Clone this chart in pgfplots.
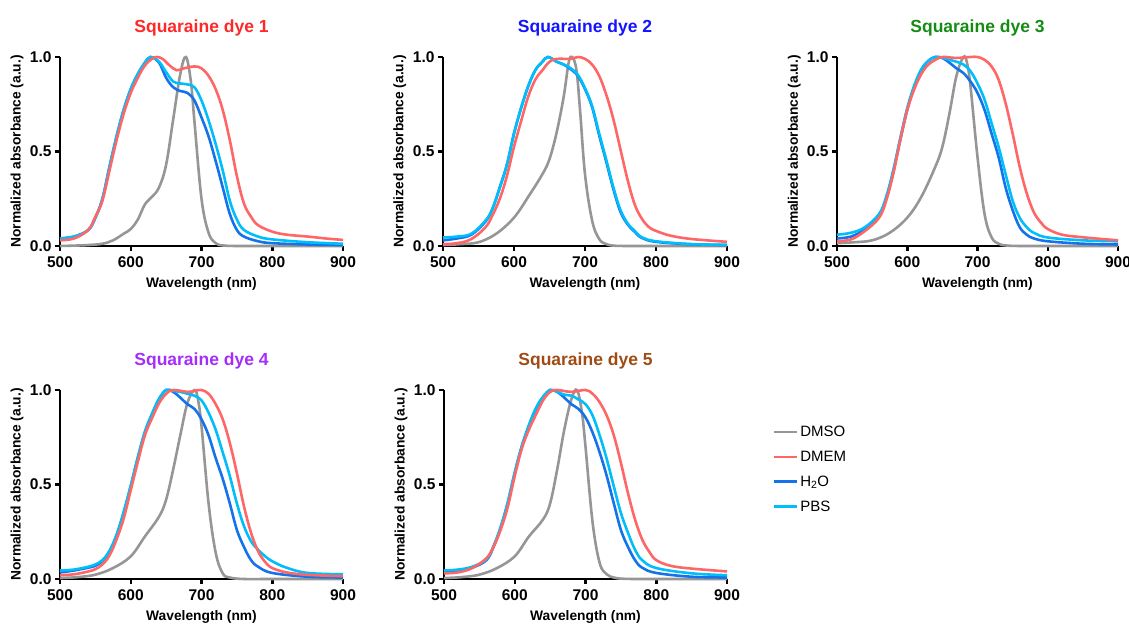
\documentclass[border=0pt]{standalone}
\usepackage{pgfplots}
\pgfplotsset{compat=1.18}
\usepackage{fontspec}
\setmainfont{Liberation Sans}
\definecolor{cDMSO}{RGB}{150,150,150}
\definecolor{cDMEM}{RGB}{255,102,102}
\definecolor{cH}{RGB}{20,115,235}
\definecolor{cPBS}{RGB}{0,190,250}
\definecolor{t1}{RGB}{255,40,40}
\definecolor{t2}{RGB}{20,20,255}
\definecolor{t3}{RGB}{20,140,20}
\definecolor{t4}{RGB}{165,45,250}
\definecolor{t5}{RGB}{160,75,20}
\pgfplotsset{
  panel/.style={
    scale only axis, height=189pt,
    xmin=500, xmax=900, ymin=0, ymax=1,
    axis lines*=left, axis line style={line width=2.5pt, black, -},
    tick align=outside, major tick length=5pt,
    tick style={line width=2.5pt, black},
    xtick={500,600,700,800,900}, xticklabels={500,600,700,800,900},
    ytick={0,0.5,1}, yticklabels={0.0,0.5,1.0},
    /pgf/number format/assume math mode=true,
    tick label style={font=\bfseries\fontsize{15.5}{17}\selectfont},
    xticklabel style={yshift=-2pt},
    xlabel={Wavelength (nm)}, ylabel={Normalized absorbance (a.u.)},
    label style={font=\bfseries\fontsize{13.8}{16}\selectfont},
    xlabel style={at={(axis description cs:0.5,-0.2)}, anchor=center},
    ylabel style={at={(axis description cs:-0.152,0.5)}, anchor=center, rotate=0},
    title style={at={(axis description cs:0.5,1.122)}, anchor=center, font=\bfseries\fontsize{17.5}{20}\selectfont},
    clip=false,
    every axis plot/.append style={line width=2.6pt, smooth, tension=0.6, no marks},
  },
  dmso/.style={cDMSO}, dmem/.style={cDMEM}, hh/.style={cH}, pbs/.style={cPBS},
}
\begin{document}
\begin{tikzpicture}
\useasboundingbox (0,0) rectangle (1129pt,626pt);
% ---------------- Panel 1
\begin{axis}[panel, width=283pt, at={(60pt,380pt)}, anchor=south west,
  title={\textcolor{t1}{Squaraine dye 1}}]
\addplot[dmso] coordinates {(500,0)(520,0.002)(540,0.005)(560,0.012)(575,0.03)(590,0.065)(600,0.09)(610,0.14)(620,0.22)(630,0.26)(640,0.31)(650,0.43)(660,0.67)(670,0.91)(678,1.0)(685,0.87)(690,0.66)(700,0.25)(710,0.07)(720,0.015)(730,0.003)(750,0)(800,0)(900,0)};
\addplot[hh] coordinates {(500,0.04)(520,0.05)(540,0.085)(550,0.15)(560,0.25)(570,0.42)(580,0.58)(590,0.72)(600,0.83)(610,0.91)(620,0.97)(628,1.0)(640,0.97)(650,0.89)(660,0.84)(670,0.82)(680,0.81)(690,0.77)(700,0.68)(710,0.58)(720,0.45)(730,0.31)(740,0.17)(750,0.085)(760,0.05)(780,0.025)(800,0.015)(850,0.008)(900,0.005)};
\addplot[pbs] coordinates {(500,0.04)(520,0.05)(540,0.085)(550,0.15)(560,0.25)(570,0.42)(580,0.58)(590,0.72)(600,0.83)(610,0.91)(620,0.97)(628,1.0)(640,0.975)(650,0.92)(660,0.87)(670,0.86)(680,0.855)(690,0.84)(700,0.77)(710,0.665)(720,0.54)(730,0.40)(740,0.24)(750,0.14)(760,0.085)(780,0.05)(800,0.035)(850,0.02)(900,0.012)};
\addplot[dmem] coordinates {(500,0.03)(520,0.04)(540,0.085)(550,0.155)(560,0.24)(570,0.40)(580,0.56)(590,0.70)(600,0.81)(610,0.89)(620,0.955)(630,0.99)(637,1.0)(645,0.99)(655,0.955)(665,0.93)(675,0.94)(690,0.95)(700,0.94)(710,0.90)(720,0.83)(730,0.72)(740,0.56)(750,0.37)(760,0.225)(770,0.155)(780,0.11)(800,0.076)(820,0.06)(850,0.05)(875,0.04)(900,0.032)};
\end{axis}
% ---------------- Panel 2
\begin{axis}[panel, width=284pt, at={(443pt,380pt)}, anchor=south west,
  title={\textcolor{t2}{Squaraine dye 2}}]
\addplot[dmso] coordinates {(500,0.005)(525,0.01)(550,0.02)(575,0.065)(600,0.15)(620,0.26)(640,0.38)(650,0.46)(660,0.60)(670,0.79)(677,0.97)(682,1.0)(688,0.93)(693,0.72)(700,0.38)(710,0.135)(720,0.037)(730,0.01)(740,0.002)(760,0)(800,0)(900,0)};
\addplot[hh] coordinates {(500,0.03)(520,0.04)(540,0.06)(560,0.13)(570,0.2)(580,0.31)(590,0.43)(600,0.595)(610,0.73)(620,0.845)(630,0.93)(640,0.975)(648,1.0)(660,0.975)(670,0.96)(680,0.935)(690,0.9)(700,0.83)(710,0.735)(720,0.585)(730,0.445)(740,0.30)(750,0.18)(760,0.115)(770,0.075)(780,0.043)(800,0.022)(850,0.009)(900,0.005)};
\addplot[pbs] coordinates {(500,0.045)(520,0.05)(540,0.065)(560,0.135)(570,0.2)(580,0.31)(590,0.43)(600,0.595)(610,0.73)(620,0.845)(630,0.93)(640,0.975)(648,1.0)(660,0.975)(670,0.96)(680,0.94)(690,0.905)(700,0.835)(710,0.74)(720,0.595)(730,0.455)(740,0.31)(750,0.19)(760,0.12)(770,0.08)(780,0.046)(800,0.025)(850,0.01)(900,0.006)};
\addplot[dmem] coordinates {(500,0.01)(520,0.015)(540,0.037)(560,0.10)(570,0.165)(580,0.25)(590,0.37)(600,0.525)(610,0.66)(620,0.79)(630,0.88)(640,0.93)(650,0.975)(660,0.99)(680,0.99)(690,1.0)(700,0.99)(710,0.96)(720,0.90)(730,0.80)(740,0.67)(750,0.51)(760,0.35)(770,0.22)(780,0.145)(790,0.10)(800,0.08)(820,0.055)(850,0.037)(900,0.022)};
\end{axis}
% ---------------- Panel 3
\begin{axis}[panel, width=281pt, at={(837pt,380pt)}, anchor=south west,
  title={\textcolor{t3}{Squaraine dye 3}}]
\addplot[dmso] coordinates {(500,0.015)(525,0.02)(550,0.03)(575,0.07)(600,0.15)(620,0.26)(640,0.42)(650,0.525)(660,0.70)(670,0.90)(680,1.0)(685,0.97)(690,0.845)(700,0.47)(710,0.17)(720,0.046)(730,0.012)(740,0.003)(760,0)(800,0)(900,0)};
\addplot[hh] coordinates {(500,0.04)(520,0.05)(540,0.09)(560,0.16)(570,0.25)(580,0.39)(590,0.56)(600,0.72)(610,0.84)(620,0.93)(630,0.98)(640,1.0)(650,0.995)(660,0.97)(670,0.94)(680,0.915)(690,0.87)(700,0.81)(710,0.72)(720,0.595)(730,0.47)(740,0.31)(750,0.19)(760,0.10)(770,0.06)(780,0.04)(800,0.025)(850,0.012)(900,0.008)};
\addplot[pbs] coordinates {(500,0.06)(520,0.07)(540,0.10)(560,0.17)(570,0.26)(580,0.40)(590,0.57)(600,0.73)(610,0.85)(620,0.935)(630,0.98)(640,1.0)(650,0.995)(660,0.985)(670,0.975)(680,0.96)(690,0.925)(700,0.86)(710,0.775)(720,0.65)(730,0.525)(740,0.38)(750,0.24)(760,0.15)(770,0.10)(780,0.07)(800,0.045)(850,0.03)(900,0.025)};
\addplot[dmem] coordinates {(500,0.025)(520,0.035)(540,0.08)(560,0.15)(570,0.24)(580,0.38)(590,0.56)(600,0.72)(610,0.83)(620,0.91)(630,0.96)(640,0.985)(650,1.0)(670,0.995)(690,1.0)(700,1.0)(710,0.985)(720,0.95)(730,0.88)(740,0.755)(750,0.595)(760,0.42)(770,0.28)(780,0.18)(790,0.125)(800,0.09)(820,0.06)(850,0.046)(900,0.03)};
\end{axis}
% ---------------- Panel 4
\begin{axis}[panel, width=283pt, at={(60pt,47pt)}, anchor=south west,
  title={\textcolor{t4}{Squaraine dye 4}}]
\addplot[dmso] coordinates {(500,0.005)(525,0.01)(550,0.023)(575,0.058)(600,0.12)(620,0.225)(640,0.33)(650,0.42)(660,0.58)(670,0.76)(680,0.93)(690,1.0)(695,0.95)(700,0.81)(710,0.40)(720,0.14)(730,0.03)(740,0.008)(760,0)(800,0)(900,0)};
\addplot[hh] coordinates {(500,0.035)(520,0.045)(540,0.06)(550,0.07)(560,0.095)(570,0.145)(580,0.23)(590,0.35)(600,0.49)(610,0.64)(620,0.775)(630,0.87)(640,0.95)(650,1.0)(660,0.99)(670,0.96)(680,0.925)(690,0.90)(700,0.845)(710,0.76)(720,0.64)(730,0.53)(740,0.40)(750,0.26)(760,0.17)(770,0.10)(780,0.065)(800,0.032)(850,0.012)(900,0.008)};
\addplot[pbs] coordinates {(500,0.045)(520,0.05)(540,0.065)(550,0.077)(560,0.10)(570,0.15)(580,0.235)(590,0.355)(600,0.495)(610,0.645)(620,0.78)(630,0.875)(640,0.955)(650,1.0)(660,0.995)(670,0.99)(680,0.98)(690,0.97)(700,0.945)(710,0.88)(720,0.79)(730,0.67)(740,0.545)(750,0.40)(760,0.28)(770,0.20)(780,0.155)(790,0.12)(800,0.094)(820,0.06)(850,0.032)(900,0.025)};
\addplot[dmem] coordinates {(500,0.02)(520,0.025)(540,0.04)(550,0.052)(560,0.077)(570,0.125)(580,0.21)(590,0.32)(600,0.47)(610,0.62)(620,0.76)(630,0.85)(640,0.93)(650,0.98)(660,1.0)(680,0.99)(690,0.995)(700,1.0)(710,0.98)(720,0.925)(730,0.845)(740,0.72)(750,0.56)(760,0.385)(770,0.245)(780,0.147)(790,0.09)(800,0.058)(820,0.035)(850,0.022)(900,0.015)};
\end{axis}
% ---------------- Panel 5
\begin{axis}[panel, width=283pt, at={(444pt,47pt)}, anchor=south west,
  title={\textcolor{t5}{Squaraine dye 5}},
  legend style={at={(axis description cs:1.15,0.58)}, anchor=west, draw=none, fill=none,
    font=\fontsize{15}{17}\selectfont, row sep=9pt, cells={anchor=west}},
  legend cell align=left,
  legend image code/.code={\draw[#1, line width=2.6pt] (0pt,0pt) -- (23pt,0pt);}]
\addplot[dmso, forget plot] coordinates {(500,0.005)(525,0.01)(550,0.023)(575,0.058)(600,0.12)(620,0.225)(640,0.315)(650,0.40)(660,0.58)(670,0.79)(680,0.95)(688,1.0)(695,0.88)(700,0.70)(710,0.30)(720,0.085)(730,0.025)(740,0.008)(750,0.002)(770,0)(800,0)(900,0)};
\addplot[hh, forget plot] coordinates {(500,0.04)(520,0.045)(540,0.06)(560,0.10)(570,0.17)(580,0.27)(590,0.40)(600,0.56)(610,0.70)(620,0.81)(630,0.90)(640,0.96)(650,1.0)(660,0.99)(670,0.96)(680,0.925)(690,0.90)(700,0.855)(710,0.775)(720,0.67)(730,0.545)(740,0.40)(750,0.26)(760,0.17)(770,0.10)(780,0.06)(800,0.032)(850,0.012)(900,0.008)};
\addplot[pbs, forget plot] coordinates {(500,0.045)(520,0.05)(540,0.065)(560,0.105)(570,0.175)(580,0.275)(590,0.405)(600,0.565)(610,0.705)(620,0.815)(630,0.905)(640,0.965)(650,1.0)(660,0.99)(670,0.975)(680,0.97)(690,0.95)(700,0.925)(710,0.865)(720,0.76)(730,0.635)(740,0.49)(750,0.35)(760,0.245)(770,0.155)(780,0.10)(800,0.058)(850,0.03)(900,0.02)};
\addplot[dmem, forget plot] coordinates {(500,0.03)(520,0.035)(540,0.058)(560,0.11)(570,0.17)(580,0.26)(590,0.38)(600,0.545)(610,0.69)(620,0.79)(630,0.87)(640,0.945)(650,0.99)(660,1.0)(680,0.99)(700,1.0)(710,0.98)(720,0.935)(730,0.865)(740,0.76)(750,0.615)(760,0.455)(770,0.315)(780,0.21)(790,0.145)(800,0.10)(820,0.07)(850,0.055)(900,0.04)};
\addlegendimage{cDMSO}\addlegendentry{DMSO}
\addlegendimage{cDMEM}\addlegendentry{DMEM}
\addlegendimage{cH}\addlegendentry{H\textsubscript{2}O}
\addlegendimage{cPBS}\addlegendentry{PBS}
\end{axis}
\end{tikzpicture}
\end{document}
